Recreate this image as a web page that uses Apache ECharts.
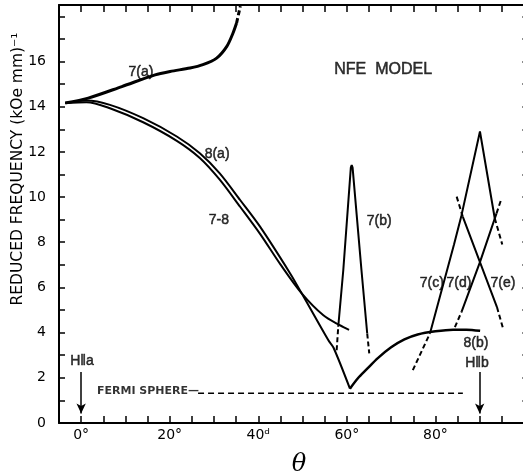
<!DOCTYPE html>
<html>
<head>
<meta charset="utf-8">
<script src="https://cdn.jsdelivr.net/npm/echarts@6/dist/echarts.min.js"></script>
<style>
html, body { margin: 0; padding: 0; background: #fff; }
#main { width: 523px; height: 476px; }
</style>
</head>
<body>
<div id="main"></div>
<script>
// theta in degrees, reduced frequency in (kOe mm)^-1
var xLabelAt = [0, 20, 40, 60, 80];
var xLabelText = ['0°', '20°', '40ᵈ', '60°', '80°'];
var yLabelAt = [0, 2, 4, 6, 8, 10, 12, 14, 16];

var curve7a = [[-3.6, 14.16], [1.6, 14.38], [9.2, 14.89], [16.7, 15.41], [20.1, 15.56], [24.6, 15.71],
  [27.5, 15.86], [30.6, 16.15], [32.9, 16.67], [34.3, 17.26], [35.1, 17.7]];
var curve7aDash = [[35.1, 17.7], [35.95, 18.45]];

var curve8a = [[-3.6, 14.16], [1.2, 14.27], [6.5, 14.08], [14.0, 13.49], [21.6, 12.68], [26.8, 11.94],
  [31.3, 11.05], [35.9, 9.87], [40.4, 8.69], [47.2, 6.62], [49.8, 5.74], [55.8, 3.67], [57.0, 3.33], [60.7, 1.52]];
var curve78 = [[-3.6, 14.16], [1.2, 14.2], [6.5, 13.93], [14.0, 13.31], [21.6, 12.49], [26.8, 11.73],
  [31.3, 10.77], [35.9, 9.57], [40.4, 8.37], [45.0, 7.02], [49.8, 5.74], [54.7, 4.77], [58.4, 4.33], [60.5, 4.12]];
var curve8b = [[60.7, 1.52], [62.5, 1.98], [64.5, 2.38], [67.0, 2.87], [70.0, 3.35], [73.0, 3.7],
  [76.0, 3.92], [80.0, 4.06], [84.0, 4.13], [87.0, 4.13], [90.1, 4.08]];

var curve7b = [[58.06, 4.26], [59.2, 6.77], [60.9, 11.3], [61.1, 11.42], [61.3, 11.3], [63.3, 6.77], [64.6, 3.96]];
var curve7bDashL = [[57.7, 3.22], [58.06, 4.26]];
var curve7bDashR = [[64.6, 3.96], [65.06, 3.08]];

var curve7c = [[78.8, 3.98], [84.2, 7.9], [85.9, 9.2], [90.06, 12.9], [93.4, 9.06]];
var curve7cDashL = [[74.9, 2.34], [78.8, 3.98]];
var curve7cDashR = [[93.4, 9.06], [95.1, 7.9]];

var curve7d = [[85.9, 4.92], [90.06, 7.12], [93.8, 9.28]];
var curve7dDashL = [[84.4, 4.24], [85.9, 4.92]];
var curve7dDashR = [[93.8, 9.28], [94.95, 9.95]];

var curve7e = [[86.2, 9.12], [90.06, 7.12], [93.9, 5.13]];
var curve7eDashL = [[84.8, 10.02], [86.2, 9.12]];
var curve7eDashR = [[93.9, 5.13], [95.25, 4.2]];

var fermiSphere = [[26.4, 1.32], [86.2, 1.32]];
var arrowHa = [[0, 2.26], [0, 0.42]];
var arrowHb = [[90, 2.26], [90, 0.42]];

// curve labels: [theta, frequency, text]
var notes = [[13.5, 15.55, '7(a)'], [30.7, 11.91, '8(a)'], [31.1, 8.98, '7-8'], [67.3, 8.94, '7(b)'],
  [79.2, 6.19, '7(c)'], [85.3, 6.19, '7(d)'], [95.25, 6.19, '7(e)'], [89.15, 3.53, '8(b)'],
  [89.4, 2.65, 'H‖b'], [0.2, 2.74, 'H‖a']];
var titleNote = [[68.2, 15.63, 'NFE  MODEL']];
var fermiNote = [[15.1, 1.41, 'FERMI SPHERE—']];

var ink = '#000';
var font = 'DejaVu Sans';
var noteFont = 'Liberation Sans';

function line(data, w, dashed, smooth) {
  return {
    type: 'line', data: data, symbol: 'none', smooth: smooth || false,
    silent: true, animation: false, xAxisIndex: 0, yAxisIndex: 0,
    lineStyle: { color: ink, width: w, type: dashed ? [5, 3] : 'solid' }
  };
}

function textSeries(list, family, size, weight) {
  return {
    type: 'scatter', symbolSize: 0, silent: true, animation: false,
    data: list.map(function (n) { return { value: [n[0], n[1]], name: n[2] }; }),
    label: {
      show: true, position: 'inside', formatter: '{b}', color: ink,
      fontFamily: family, fontSize: size, fontWeight: weight || 'normal',
      textBorderColor: ink, textBorderWidth: weight ? 0 : 0.5
    }
  };
}

function arrow(pts) {
  return {
    type: 'line', data: [], silent: true, animation: false,
    markLine: {
      silent: true, animation: false, symbol: ['none', 'arrow'], symbolSize: [7, 10],
      label: { show: false },
      lineStyle: { color: ink, width: 1.5, type: 'solid' },
      data: [[{ coord: pts[0] }, { coord: pts[1] }]]
    }
  };
}

var frameX = {
  type: 'value', min: -5, max: 101, interval: 5,
  axisLine: { show: true, onZero: false, lineStyle: { color: ink, width: 2 } },
  axisTick: { show: true, inside: true, length: 7, lineStyle: { color: ink, width: 1.5 } },
  splitLine: { show: false }
};
var frameY = {
  type: 'value', min: 0, max: 18.5, interval: 1,
  axisLine: { show: true, onZero: false, lineStyle: { color: ink, width: 2 } },
  axisTick: { show: true, inside: true, length: 6, lineStyle: { color: ink, width: 1.5 } },
  splitLine: { show: false }
};

var chart = echarts.init(document.getElementById('main'));
chart.setOption({
  backgroundColor: '#fff',
  grid: { left: 59, top: 5, width: 469.4, height: 418, containLabel: false, outerBoundsMode: 'none' },
  xAxis: [
    Object.assign({}, frameX, {
      position: 'bottom',
      axisLabel: {
        color: ink, fontFamily: font, fontSize: 14, margin: 5,
        formatter: function (v) {
          var i = xLabelAt.indexOf(v);
          return i < 0 ? '' : xLabelText[i];
        }
      }
    }),
    Object.assign({}, frameX, { position: 'top', axisLabel: { show: false } })
  ],
  yAxis: [
    Object.assign({}, frameY, {
      position: 'left',
      axisLabel: {
        color: ink, fontFamily: font, fontSize: 14, margin: 13,
        formatter: function (v) { return yLabelAt.indexOf(v) < 0 ? '' : String(v); }
      }
    }),
    Object.assign({}, frameY, { position: 'right', axisLabel: { show: false } })
  ],
  graphic: [
    {
      type: 'text', x: 18, y: 169, rotation: Math.PI / 2,
      style: {
        text: 'REDUCED FREQUENCY (kOe mm)⁻¹', fill: ink, font: '15.5px ' + font,
        textAlign: 'center', textVerticalAlign: 'middle', align: 'center', verticalAlign: 'middle'
      }
    },
    {
      type: 'text', x: 299, y: 465,
      style: {
        text: 'θ', fill: ink, font: 'italic 24px "DejaVu Serif"',
        textAlign: 'center', textVerticalAlign: 'middle', align: 'center', verticalAlign: 'middle'
      }
    }
  ],
  series: [
    line(curve7a, 3, false, 0.3), line(curve7aDash, 3, true),
    line(curve8a, 2, false, 0.3), line(curve78, 2, false, 0.3),
    line(curve8b, 2.5, false, 0.3),
    line(curve7b, 2, false), line(curve7bDashL, 2, true), line(curve7bDashR, 2, true),
    line(curve7c, 2, false), line(curve7cDashL, 2, true), line(curve7cDashR, 2, true),
    line(curve7d, 2, false), line(curve7dDashL, 2, true), line(curve7dDashR, 2, true),
    line(curve7e, 2, false), line(curve7eDashL, 2, true), line(curve7eDashR, 2, true),
    Object.assign(line(fermiSphere, 1.5, false), { lineStyle: { color: ink, width: 1.5, type: [6, 4] } }),
    arrow(arrowHa), arrow(arrowHb),
    textSeries(notes, noteFont, 14),
    textSeries(titleNote, noteFont, 16),
    textSeries(fermiNote, font, 11, 'bold')
  ]
});
</script>
</body>
</html>
